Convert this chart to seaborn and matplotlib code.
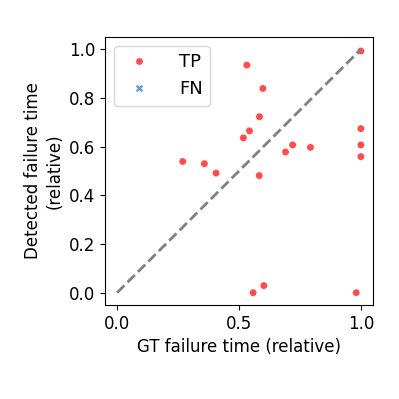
import numpy as np
import pandas as pd
import matplotlib
matplotlib.use("Agg")
import matplotlib.pyplot as plt
import seaborn as sns

plt.rcParams['font.size'] = 12

# relative failure times
gt_time = [1.0, 0.532, 0.598, 0.584, 0.543, 0.518, 0.269, 0.358, 0.406, 0.583,
           0.691, 0.720, 0.793, 1.0, 1.0, 1.0, 0.558, 0.602, 0.981]
det_time = [0.993, 0.935, 0.839, 0.723, 0.665, 0.636, 0.539, 0.530, 0.491, 0.481,
            0.578, 0.607, 0.597, 0.674, 0.607, 0.559, 0.0, 0.029, 0.0]
kind = ['TP'] * len(gt_time)
kinds = ['TP', 'FN']

df = pd.DataFrame({'gt': gt_time, 'det': det_time, 'kind': kind})

fig, ax = plt.subplots(figsize=(3.99, 3.99), dpi=100)
fig.subplots_adjust(left=0.263, right=0.935, bottom=0.236, top=0.907)

ax.plot([0, 1], [0, 1], '--', color='gray', linewidth=2)
sns.scatterplot(data=df, x='gt', y='det', hue='kind', style='kind',
                hue_order=kinds, style_order=kinds,
                palette={'TP': 'red', 'FN': 'tab:blue'},
                markers={'TP': 'o', 'FN': 'X'},
                alpha=0.7, s=28, ax=ax)

ax.set_xticks([0, 0.5, 1.0])
ax.set_yticks([0, 0.2, 0.4, 0.6, 0.8, 1.0])
ax.set_xlabel('GT failure time (relative)')
ax.set_ylabel('Detected failure time\n(relative)')
ax.legend(loc='upper left', title=None, fontsize=13, handletextpad=1.2)

fig.savefig('out.png', dpi=100)
